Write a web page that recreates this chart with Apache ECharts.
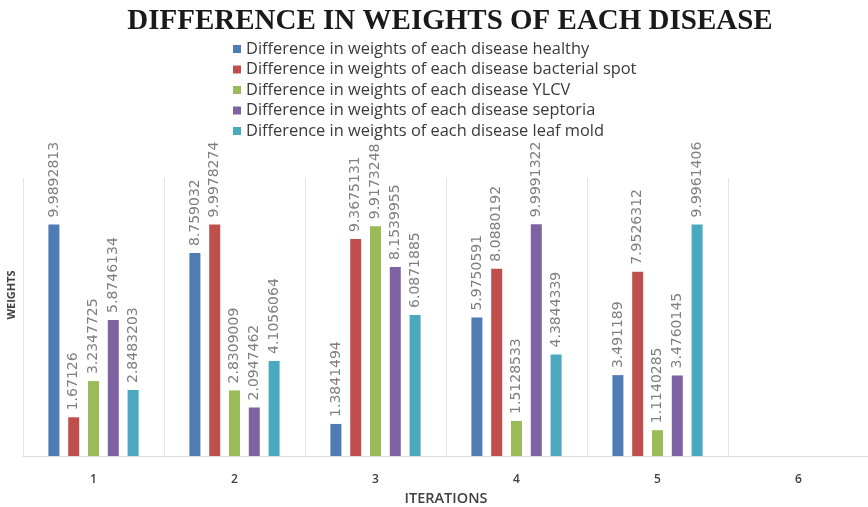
<!DOCTYPE html>
<html>
<head>
<meta charset="utf-8">
<style>
  html, body { margin: 0; padding: 0; background: #ffffff; }
  #chart { width: 868px; height: 507px; }
</style>
<script src="https://cdn.jsdelivr.net/npm/echarts@6/dist/echarts.min.js"></script>
</head>
<body>
<div id="chart"></div>
<script>
// Iterations on the x axis
const iterations = ['1', '2', '3', '4', '5', '6'];

// Series names
const seriesNames = [
  'Difference in weights of each disease healthy',
  'Difference in weights of each disease bacterial spot',
  'Difference in weights of each disease YLCV',
  'Difference in weights of each disease septoria',
  'Difference in weights of each disease leaf mold'
];

// Weight differences per iteration (iteration 6 has no data)
const healthy       = [9.9892813, 8.759032, 1.3841494, 5.9750591, 3.491189, null];
const bacterialSpot = [1.67126, 9.9978274, 9.3675131, 8.0880192, 7.9526312, null];
const ylcv          = [3.2347725, 2.8309009, 9.9173248, 1.5128533, 1.1140285, null];
const septoria      = [5.8746134, 2.0947462, 8.1539955, 9.9991322, 3.4760145, null];
const leafMold      = [2.8483203, 4.1056064, 6.0871885, 4.3844339, 9.9961406, null];

const seriesValues = [healthy, bacterialSpot, ylcv, septoria, leafMold];
const seriesColors = ['#4f7db3', '#be4f4c', '#9bbb59', '#7f62a1', '#4aa9bf'];

const chart = echarts.init(document.getElementById('chart'), null, { renderer: 'canvas' });

const series = seriesNames.map((name, i) => ({
  name: name,
  type: 'bar',
  data: seriesValues[i],
  barWidth: 11,
  barGap: '80%',
  itemStyle: { color: seriesColors[i] },
  label: {
    show: true,
    position: 'top',
    rotate: 90,
    align: 'left',
    verticalAlign: 'middle',
    distance: 7,
    color: '#7f7f7f',
    fontFamily: 'DejaVu Sans',
    fontSize: 14,
    formatter: p => (p.value == null ? '' : String(p.value))
  }
}));

chart.setOption({
  animation: false,
  backgroundColor: '#ffffff',
  title: {
    text: 'DIFFERENCE IN WEIGHTS OF EACH DISEASE',
    left: 445,
    textAlign: 'center',
    top: 2,
    textStyle: {
      fontFamily: 'Liberation Serif',
      fontWeight: 'bold',
      fontSize: 29,
      color: '#1a1a1a'
    }
  },
  legend: {
    orient: 'vertical',
    left: 228,
    top: 36,
    icon: 'rect',
    itemWidth: 8,
    itemHeight: 8,
    itemGap: 4.5,
    textStyle: {
      fontFamily: 'Open Sans',
      fontSize: 16.4,
      lineHeight: 16,
      color: '#3a3a3a'
    },
    data: seriesNames
  },
  grid: {
    left: 23,
    top: 178,
    width: 846,
    bottom: 51,
    outerBoundsMode: 'none',
    containLabel: false
  },
  xAxis: {
    type: 'category',
    data: iterations,
    name: 'ITERATIONS',
    nameLocation: 'middle',
    nameGap: 31,
    nameTextStyle: {
      fontFamily: 'Open Sans',
      fontWeight: 600,
      fontSize: 14.5,
      color: '#404040'
    },
    axisLine: { show: true, lineStyle: { color: '#d9d9d9', width: 1 } },
    axisTick: { show: false },
    axisLabel: {
      margin: 18,
      fontFamily: 'Open Sans',
      fontWeight: 600,
      fontSize: 12,
      color: '#404040'
    },
    splitLine: {
      show: true,
      interval: 0,
      lineStyle: { color: '#e3e3e3', width: 1 }
    }
  },
  yAxis: {
    type: 'value',
    min: 0,
    max: 12,
    interval: 2,
    name: 'WEIGHTS',
    nameLocation: 'middle',
    nameGap: 6,
    nameTextStyle: {
      fontFamily: 'Open Sans',
      fontWeight: 700,
      fontSize: 11,
      color: '#404040',
      padding: [0, 0, 0, 44]
    },
    axisLine: { show: false },
    axisTick: { show: false },
    axisLabel: { show: false },
    splitLine: { show: false }
  },
  series: series
});
</script>
</body>
</html>
